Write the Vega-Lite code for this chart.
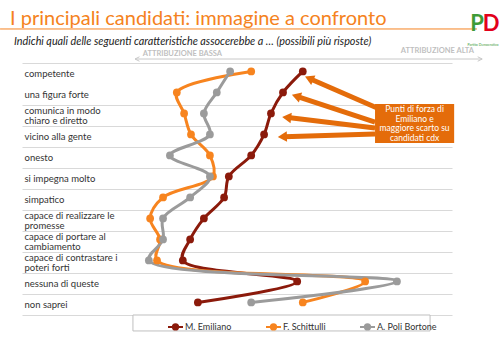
{
  "$schema": "https://vega.github.io/schema/vega-lite/v6.json",
  "width": 430,
  "height": 252,
  "autosize": {"type": "none"},
  "padding": {"left": 22, "top": 63, "right": 48, "bottom": 23},
  "background": "white",
  "config": {"view": {"stroke": null}, "font": "Lato"},
  "datasets": {
    "main": [
      {"cat": "competente", "rank": 1, "candidato": "M. Emiliano", "val": 65.3},
      {"cat": "una figura forte", "rank": 2, "candidato": "M. Emiliano", "val": 60.7},
      {"cat": "comunica in modo\nchiaro e diretto", "rank": 3, "candidato": "M. Emiliano", "val": 57.9},
      {"cat": "vicino alla gente", "rank": 4, "candidato": "M. Emiliano", "val": 56.3},
      {"cat": "onesto", "rank": 5, "candidato": "M. Emiliano", "val": 53.3},
      {"cat": "si impegna molto", "rank": 6, "candidato": "M. Emiliano", "val": 48.1},
      {"cat": "simpatico", "rank": 7, "candidato": "M. Emiliano", "val": 47.0},
      {"cat": "capace di realizzare le\npromesse", "rank": 8, "candidato": "M. Emiliano", "val": 42.3},
      {"cat": "capace di portare al\ncambiamento", "rank": 9, "candidato": "M. Emiliano", "val": 39.1},
      {"cat": "capace di contrastare i\npoteri forti", "rank": 10, "candidato": "M. Emiliano", "val": 37.4},
      {"cat": "nessuna di queste", "rank": 11, "candidato": "M. Emiliano", "val": 64.0},
      {"cat": "non saprei", "rank": 12, "candidato": "M. Emiliano", "val": 40.9},
      {"cat": "competente", "rank": 1, "candidato": "F. Schittulli", "val": 53.3},
      {"cat": "una figura forte", "rank": 2, "candidato": "F. Schittulli", "val": 36.0},
      {"cat": "comunica in modo\nchiaro e diretto", "rank": 3, "candidato": "F. Schittulli", "val": 37.7},
      {"cat": "vicino alla gente", "rank": 4, "candidato": "F. Schittulli", "val": 39.3},
      {"cat": "onesto", "rank": 5, "candidato": "F. Schittulli", "val": 43.7},
      {"cat": "si impegna molto", "rank": 6, "candidato": "F. Schittulli", "val": 44.4},
      {"cat": "simpatico", "rank": 7, "candidato": "F. Schittulli", "val": 32.8},
      {"cat": "capace di realizzare le\npromesse", "rank": 8, "candidato": "F. Schittulli", "val": 29.8},
      {"cat": "capace di portare al\ncambiamento", "rank": 9, "candidato": "F. Schittulli", "val": 32.1},
      {"cat": "capace di contrastare i\npoteri forti", "rank": 10, "candidato": "F. Schittulli", "val": 31.4},
      {"cat": "nessuna di queste", "rank": 11, "candidato": "F. Schittulli", "val": 79.8},
      {"cat": "non saprei", "rank": 12, "candidato": "F. Schittulli", "val": 65.3},
      {"cat": "competente", "rank": 1, "candidato": "A. Poli Bortone", "val": 48.4},
      {"cat": "una figura forte", "rank": 2, "candidato": "A. Poli Bortone", "val": 45.3},
      {"cat": "comunica in modo\nchiaro e diretto", "rank": 3, "candidato": "A. Poli Bortone", "val": 42.3},
      {"cat": "vicino alla gente", "rank": 4, "candidato": "A. Poli Bortone", "val": 43.7},
      {"cat": "onesto", "rank": 5, "candidato": "A. Poli Bortone", "val": 34.4},
      {"cat": "si impegna molto", "rank": 6, "candidato": "A. Poli Bortone", "val": 43.7},
      {"cat": "simpatico", "rank": 7, "candidato": "A. Poli Bortone", "val": 39.1},
      {"cat": "capace di realizzare le\npromesse", "rank": 8, "candidato": "A. Poli Bortone", "val": 32.8},
      {"cat": "capace di portare al\ncambiamento", "rank": 9, "candidato": "A. Poli Bortone", "val": 32.8},
      {"cat": "capace di contrastare i\npoteri forti", "rank": 10, "candidato": "A. Poli Bortone", "val": 29.5},
      {"cat": "nessuna di queste", "rank": 11, "candidato": "A. Poli Bortone", "val": 87.2},
      {"cat": "non saprei", "rank": 12, "candidato": "A. Poli Bortone", "val": 53.3}
    ]
  },
  "layer": [
    {
      "layer": [
        {
          "mark": {"type": "line", "interpolate": "catmull-rom", "strokeWidth": 3},
          "encoding": {
            "order": {"field": "rank", "type": "quantitative"}
          }
        },
        {
          "mark": {"type": "point", "filled": true, "opacity": 1, "size": 60, "shape": "circle"}
        }
      ],
      "data": {"name": "main"},
      "encoding": {
        "x": {"field": "val", "type": "quantitative", "scale": {"domain": [0, 100], "nice": false, "zero": false}, "axis": null},
        "y": {
          "field": "cat", "type": "nominal", "sort": {"field": "rank", "order": "ascending"}, "bandPosition": 0.4,
          "scale": {"type": "band", "paddingInner": 0, "paddingOuter": 0},
          "axis": {
            "title": null, "orient": "left", "labelAlign": "left", "labelPadding": -2, "ticks": false, "domain": false,
            "grid": true, "tickBand": "extent", "gridColor": "#D9D9D9", "gridWidth": 1,
            "gridOpacity": {"condition": {"test": "datum.value === 'competente'", "value": 0}, "value": 1},
            "labelFont": "Lato", "labelFontSize": 9.5, "labelColor": "#333333", "labelBaseline": "middle",
            "labelOffset": {"condition": {"test": "datum.value && indexof(datum.value, '\\n') >= 0", "value": -5}, "value": 0},
            "labelExpr": "datum.value ? split(datum.value, '\\n') : ''", "labelLineHeight": 10, "labelOverlap": false, "labelBound": false, "labelLimit": 200
          }
        },
        "color": {
          "field": "candidato", "type": "nominal",
          "scale": {"domain": ["M. Emiliano", "F. Schittulli", "A. Poli Bortone"], "range": ["#8B1A0B", "#F7841F", "#9B9B9B"]},
          "legend": {
            "title": null, "orient": "none", "direction": "horizontal", "legendX": 145, "legendY": 255,
            "padding": 0, "columnPadding": 30, "labelFont": "Lato", "labelFontSize": 9, "labelColor": "#333333",
            "symbolType": "M-1,0H1M-0.35,0A0.35,0.35 0 1,1 0.35,0A0.35,0.35 0 1,1 -0.35,0", "symbolSize": 225, "symbolStrokeWidth": 2, "labelOffset": 1
          }
        }
      }
    },
    {
      "encoding": {
        "x": {"field": "x", "type": "quantitative", "scale": {"domain": [0, 100], "nice": false, "zero": false}, "axis": null},
        "y": {"field": "y", "type": "quantitative", "scale": {"domain": [0, 12], "reverse": true, "nice": false, "zero": false}, "axis": null}
      },
      "layer": [
        {
          "data": {"values": [{"x": 25.8, "x2": 94.9, "y": 12.0, "y2": 12.76}]},
          "mark": {"type": "rect", "fill": "white", "stroke": "#BFBFBF", "strokeWidth": 1},
          "encoding": {"x2": {"field": "x2"}, "y2": {"field": "y2"}}
        },
        {
          "data": {"values": [
            {"x": 82.6, "y": 2.143, "x2": 67.1, "y2": 0.762},
            {"x": 82.1, "y": 2.810, "x2": 64.1, "y2": 1.6},
            {"x": 82.1, "y": 3.095, "x2": 61.9, "y2": 2.6},
            {"x": 82.1, "y": 3.381, "x2": 60.9, "y2": 3.51}
          ]},
          "mark": {"type": "rule", "color": "#E46C0A", "strokeWidth": 5},
          "encoding": {"x2": {"field": "x2"}, "y2": {"field": "y2"}}
        },
        {
          "data": {"values": [
            {"x": 67.1, "y": 0.762, "angle": 293.6},
            {"x": 64.1, "y": 1.6, "angle": 288.2},
            {"x": 61.9, "y": 2.6, "angle": 276.8},
            {"x": 60.9, "y": 3.51, "angle": 268.2}
          ]},
          "mark": {"type": "point", "shape": "triangle", "filled": true, "color": "#E46C0A", "opacity": 1, "size": 110},
          "encoding": {"angle": {"field": "angle", "type": "quantitative", "scale": null}}
        },
        {
          "data": {"values": [{"x": 82.1, "x2": 100.5, "y": 1.95, "y2": 3.81}]},
          "mark": {"type": "rect", "fill": "#E46C0A"},
          "encoding": {"x2": {"field": "x2"}, "y2": {"field": "y2"}}
        },
        {
          "data": {"values": [{"x": 91.3, "y": 2.0, "t": ["Punti di forza di", "Emiliano e", "maggiore scarto su", "candidati cdx"]}]},
          "mark": {"type": "text", "color": "white", "font": "Lato", "fontSize": 8.5, "lineHeight": 9.7, "align": "center", "baseline": "top"},
          "encoding": {"text": {"field": "t"}}
        },
        {
          "data": {"values": [{"x": -2.8, "y": -1.81, "t": "I principali candidati: immagine a confronto"}]},
          "mark": {"type": "text", "color": "#F58220", "font": "Lato", "fontSize": 20, "align": "left", "baseline": "alphabetic"},
          "encoding": {"text": {"field": "t"}}
        },
        {
          "data": {"values": [{"x": -1.86, "y": -0.857, "t": "Indichi quali delle seguenti caratteristiche assocerebbe a … (possibili più risposte)"}]},
          "mark": {"type": "text", "color": "#222222", "font": "Lato", "fontSize": 10.8, "fontStyle": "italic", "align": "left", "baseline": "alphabetic"},
          "encoding": {"text": {"field": "t"}}
        },
        {
          "data": {"values": [{"x": -5.1, "x2": 105.8, "y": -1.62}]},
          "mark": {"type": "rule", "color": "#F58220", "strokeWidth": 1},
          "encoding": {"x2": {"field": "x2"}}
        },
        {
          "data": {"values": [{"x": 26.3, "x2": 107, "y": -0.19}]},
          "mark": {"type": "rule", "color": "#C8C8C8", "strokeWidth": 1},
          "encoding": {"x2": {"field": "x2"}}
        },
        {
          "data": {"values": [{"x": 26.8, "y": -0.19}]},
          "mark": {"type": "point", "shape": "M1,-1L-1,0L1,1", "filled": false, "color": "#C8C8C8", "opacity": 1, "size": 20, "strokeWidth": 1}
        },
        {
          "data": {"values": [{"x": 106.5, "y": -0.19}]},
          "mark": {"type": "point", "shape": "M-1,-1L1,0L-1,1", "filled": false, "color": "#C8C8C8", "opacity": 1, "size": 20, "strokeWidth": 1}
        },
        {
          "data": {"values": [{"x": 37.3, "y": -0.43, "t": "ATTRIBUZIONE BASSA"}, {"x": 96.6, "y": -0.57, "t": "ATTRIBUZIONE ALTA"}]},
          "mark": {"type": "text", "color": "#BFBFBF", "font": "Lato", "fontSize": 7.5, "fontWeight": "bold", "align": "center", "baseline": "middle"},
          "encoding": {"text": {"field": "t"}}
        },
        {
          "data": {"values": [{"x": 105.8, "y": -1.86, "t": "P"}]},
          "mark": {"type": "text", "color": "#3E9B37", "font": "Lato", "fontSize": 22, "fontWeight": "bold", "align": "center", "baseline": "middle"},
          "encoding": {"text": {"field": "t"}}
        },
        {
          "data": {"values": [{"x": 109.1, "y": -1.86, "t": "D"}]},
          "mark": {"type": "text", "color": "#E2001A", "font": "Lato", "fontSize": 22, "fontWeight": "bold", "align": "center", "baseline": "middle"},
          "encoding": {"text": {"field": "t"}}
        },
        {
          "data": {"values": [{"x": 107.2, "y": -0.85, "t": "Partito Democratico"}]},
          "mark": {"type": "text", "color": "#3E9B37", "font": "Lato", "fontSize": 3.5, "align": "center", "baseline": "middle"},
          "encoding": {"text": {"field": "t"}}
        }
      ]
    }
  ],
  "resolve": {"scale": {"y": "independent"}}
}
